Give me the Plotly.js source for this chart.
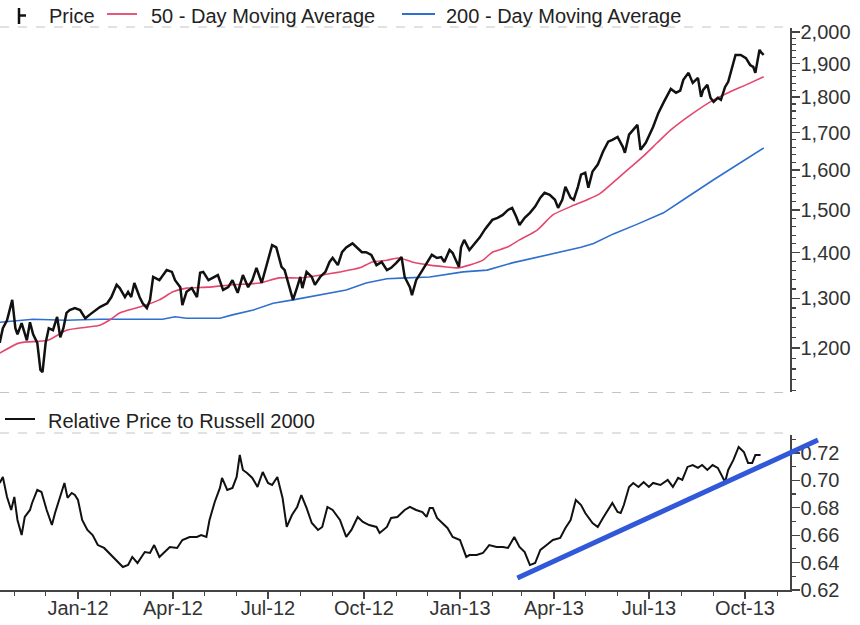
<!DOCTYPE html>
<html>
<head>
<meta charset="utf-8">
<script src="https://cdn.plot.ly/plotly-3.0.1.min.js"></script>
<style>html,body{margin:0;padding:0;background:#fff;}#chart{width:860px;height:625px;}</style>
</head>
<body>
<div id="chart"></div>
<script>
// ---------- DATA ----------
var priceDates = [
'2011-10-18','2011-10-21','2011-10-25','2011-10-30','2011-11-02','2011-11-04','2011-11-08','2011-11-13','2011-11-16','2011-11-19',
'2011-11-23','2011-11-26','2011-11-28','2011-12-01','2011-12-04','2011-12-08','2011-12-12','2011-12-15','2011-12-18','2011-12-21',
'2011-12-24','2011-12-29','2012-01-03','2012-01-08','2012-01-12','2012-01-19','2012-01-22','2012-01-29','2012-02-02','2012-02-07',
'2012-02-10','2012-02-15','2012-02-18','2012-02-21','2012-02-24','2012-02-29','2012-03-03','2012-03-07','2012-03-10','2012-03-13',
'2012-03-19','2012-03-26','2012-03-31','2012-04-03','2012-04-08','2012-04-10','2012-04-14','2012-04-19','2012-04-24','2012-04-27',
'2012-04-30','2012-05-05','2012-05-09','2012-05-14','2012-05-19','2012-05-24','2012-05-28','2012-06-02','2012-06-07','2012-06-12',
'2012-06-16','2012-06-20','2012-06-25','2012-06-30','2012-07-05','2012-07-09','2012-07-14','2012-07-17','2012-07-22','2012-07-25',
'2012-07-29','2012-08-01','2012-08-03','2012-08-07','2012-08-12','2012-08-15','2012-08-20','2012-08-25','2012-08-29','2012-09-01',
'2012-09-06','2012-09-10','2012-09-14','2012-09-20','2012-09-25','2012-09-29','2012-10-03','2012-10-08','2012-10-13','2012-10-18',
'2012-10-23','2012-10-27','2012-11-01','2012-11-06','2012-11-09','2012-11-14','2012-11-16','2012-11-20','2012-11-25','2012-11-30',
'2012-12-05','2012-12-10','2012-12-14','2012-12-17','2012-12-22','2012-12-25','2012-12-29','2012-12-31','2013-01-02','2013-01-05',
'2013-01-10','2013-01-15','2013-01-20','2013-01-25','2013-01-29','2013-02-01','2013-02-06','2013-02-11','2013-02-16','2013-02-20',
'2013-02-24','2013-02-27','2013-03-04','2013-03-09','2013-03-14','2013-03-19','2013-03-23','2013-03-28','2013-04-02','2013-04-05',
'2013-04-09','2013-04-12','2013-04-17','2013-04-20','2013-04-24','2013-04-27','2013-05-01','2013-05-04','2013-05-08','2013-05-13',
'2013-05-18','2013-05-23','2013-05-27','2013-06-01','2013-06-06','2013-06-08','2013-06-12','2013-06-16','2013-06-20','2013-06-23',
'2013-06-28','2013-07-05','2013-07-10','2013-07-15','2013-07-22','2013-07-27','2013-07-31','2013-08-03','2013-08-08','2013-08-12',
'2013-08-17','2013-08-20','2013-08-22','2013-08-26','2013-08-29','2013-09-01','2013-09-05','2013-09-08','2013-09-12','2013-09-15',
'2013-09-19','2013-09-22','2013-09-27','2013-10-02','2013-10-06','2013-10-09','2013-10-11','2013-10-13','2013-10-15','2013-10-17',
'2013-10-19'];
var priceValues = [
1210,1239,1255,1297,1239,1227,1249,1215,1251,1227,
1210,1158,1154,1210,1239,1235,1262,1221,1239,1270,
1276,1280,1276,1259,1266,1276,1282,1290,1303,1329,
1322,1303,1314,1303,1333,1303,1290,1280,1297,1346,
1339,1361,1357,1339,1324,1286,1314,1322,1303,1355,
1357,1339,1344,1350,1318,1324,1339,1312,1350,1324,
1339,1366,1333,1372,1417,1412,1368,1361,1324,1297,
1324,1346,1322,1357,1346,1329,1346,1357,1379,1388,
1372,1401,1412,1421,1410,1401,1401,1395,1372,1379,
1361,1366,1377,1390,1346,1324,1307,1339,1357,1377,
1395,1388,1390,1379,1406,1399,1377,1368,1412,1429,
1406,1421,1435,1454,1466,1476,1481,1488,1500,1505,
1483,1464,1481,1493,1508,1530,1542,1537,1525,1505,
1525,1557,1530,1525,1557,1588,1593,1555,1596,1614,
1648,1675,1680,1688,1661,1645,1694,1707,1721,1653,
1672,1715,1754,1784,1824,1813,1819,1851,1872,1842,
1857,1801,1821,1836,1798,1786,1798,1792,1830,1845,
1890,1927,1927,1917,1896,1890,1872,1902,1943,1933,
1927];

var ma50Dates = ['2011-10-18','2011-11-06','2011-12-03','2011-12-21','2012-01-09','2012-01-22','2012-01-31','2012-02-10','2012-02-29','2012-03-19',
'2012-04-01','2012-04-14','2012-05-04','2012-05-28','2012-06-23','2012-07-12','2012-08-01','2012-08-20','2012-09-08','2012-09-27',
'2012-10-09','2012-10-23','2012-11-04','2012-11-16','2012-12-03','2012-12-19','2012-12-30','2013-01-10','2013-01-23','2013-02-01',
'2013-02-15','2013-02-27','2013-03-16','2013-03-31','2013-04-17','2013-05-03','2013-05-15','2013-06-01','2013-06-13','2013-06-26',
'2013-07-09','2013-07-22','2013-08-10','2013-09-01','2013-09-17','2013-10-02','2013-10-19'];
var ma50Values = [1190,1210,1215,1235,1241,1245,1255,1270,1282,1297,
1314,1322,1324,1329,1333,1344,1344,1350,1357,1366,
1379,1383,1388,1379,1372,1368,1366,1372,1383,1401,
1412,1429,1452,1488,1508,1525,1540,1578,1606,1637,
1672,1707,1749,1792,1816,1836,1860];

var ma200Dates = ['2011-10-18','2011-11-19','2011-12-21','2012-01-22','2012-02-22','2012-03-22','2012-04-03','2012-04-14','2012-05-16','2012-05-28',
'2012-06-17','2012-07-06','2012-07-25','2012-08-20','2012-09-14','2012-10-03','2012-10-23','2012-11-11','2012-12-03','2013-01-04',
'2013-01-27','2013-02-20','2013-03-25','2013-04-27','2013-05-09','2013-05-28','2013-06-20','2013-07-15','2013-08-03','2013-09-01',
'2013-10-19'];
var ma200Values = [1251,1257,1255,1257,1257,1257,1262,1259,1259,1266,
1276,1290,1297,1307,1318,1333,1342,1344,1346,1357,
1361,1377,1395,1412,1421,1443,1466,1493,1525,1575,
1658];

var relDates = [
'2011-10-18','2011-10-21','2011-10-25','2011-10-29','2011-11-01','2011-11-04','2011-11-08','2011-11-11','2011-11-16','2011-11-18',
'2011-11-23','2011-11-27','2011-12-02','2011-12-07','2011-12-10','2011-12-15','2011-12-19','2011-12-22','2011-12-26','2011-12-29',
'2012-01-01','2012-01-05','2012-01-10','2012-01-15','2012-01-20','2012-01-26','2012-02-02','2012-02-08','2012-02-13','2012-02-18',
'2012-02-22','2012-02-27','2012-03-05','2012-03-10','2012-03-14','2012-03-19','2012-03-24','2012-03-29','2012-04-05','2012-04-10',
'2012-04-17','2012-04-24','2012-04-28','2012-05-03','2012-05-06','2012-05-11','2012-05-16','2012-05-18','2012-05-23','2012-05-28',
'2012-06-01','2012-06-04','2012-06-07','2012-06-11','2012-06-16','2012-06-21','2012-06-26','2012-07-01','2012-07-05','2012-07-10',
'2012-07-15','2012-07-19','2012-07-24','2012-07-29','2012-08-02','2012-08-07','2012-08-12','2012-08-18','2012-08-22','2012-08-27',
'2012-09-01','2012-09-08','2012-09-14','2012-09-19','2012-09-25','2012-09-30','2012-10-06','2012-10-13','2012-10-16','2012-10-23',
'2012-10-27','2012-11-02','2012-11-09','2012-11-14','2012-11-20','2012-11-26','2012-11-30','2012-12-03','2012-12-06','2012-12-10',
'2012-12-15','2012-12-20','2012-12-25','2013-01-01','2013-01-07','2013-01-10','2013-01-17','2013-01-23','2013-01-29','2013-02-05',
'2013-02-11','2013-02-16','2013-02-22','2013-02-27','2013-03-04','2013-03-09','2013-03-14','2013-03-19','2013-03-25','2013-03-31',
'2013-04-07','2013-04-12','2013-04-17','2013-04-22','2013-04-27','2013-05-01','2013-05-08','2013-05-13','2013-05-18','2013-05-23',
'2013-05-27','2013-06-01','2013-06-04','2013-06-07','2013-06-12','2013-06-16','2013-06-21','2013-06-26','2013-07-01','2013-07-05',
'2013-07-12','2013-07-19','2013-07-24','2013-07-29','2013-08-02','2013-08-07','2013-08-12','2013-08-17','2013-08-21','2013-08-26',
'2013-08-31','2013-09-05','2013-09-10','2013-09-12','2013-09-15','2013-09-20','2013-09-25','2013-09-30','2013-10-04','2013-10-08',
'2013-10-11','2013-10-16'];
var relValues = [
0.6981,0.7025,0.6879,0.6784,0.6879,0.6711,0.6601,0.6733,0.6784,0.6835,
0.6930,0.6915,0.6784,0.6674,0.6762,0.6893,0.6981,0.6872,0.6908,0.6893,
0.6857,0.6711,0.6638,0.6601,0.6528,0.6507,0.6455,0.6404,0.6368,0.6382,
0.6441,0.6397,0.6477,0.6470,0.6528,0.6441,0.6477,0.6514,0.6507,0.6565,
0.6587,0.6587,0.6601,0.6587,0.6711,0.6842,0.6945,0.7018,0.6930,0.6945,
0.7025,0.7185,0.7076,0.7054,0.7018,0.6952,0.7061,0.6981,0.6966,0.7025,
0.6872,0.6660,0.6747,0.6806,0.6893,0.6799,0.6689,0.6638,0.6660,0.6806,
0.6784,0.6711,0.6587,0.6638,0.6733,0.6696,0.6674,0.6660,0.6616,0.6660,
0.6726,0.6733,0.6784,0.6806,0.6784,0.6769,0.6733,0.6799,0.6799,0.6726,
0.6689,0.6653,0.6587,0.6565,0.6441,0.6455,0.6455,0.6470,0.6528,0.6514,
0.6514,0.6507,0.6587,0.6514,0.6477,0.6382,0.6397,0.6492,0.6528,0.6565,
0.6580,0.6653,0.6711,0.6857,0.6820,0.6762,0.6689,0.6660,0.6726,0.6784,
0.6835,0.6769,0.6762,0.6820,0.6952,0.6981,0.6952,0.6988,0.6952,0.6981,
0.6966,0.7003,0.6952,0.7018,0.7003,0.7098,0.7112,0.7091,0.7112,0.7076,
0.7112,0.7091,0.7018,0.6988,0.7076,0.7149,0.7244,0.7207,0.7127,0.7127,
0.7185,0.7185];

var trendDates = ['2013-02-25','2013-12-10'];
var trendValues = [0.6288, 0.7295];

var priceTickVals = [1200,1300,1400,1500,1600,1700,1800,1900,2000];
var priceTickText = ['1,200','1,300','1,400','1,500','1,600','1,700','1,800','1,900','2,000'];
var priceMinorVals = [1120,1140,1160,1180,1220,1240,1260,1280,1320,1340,1360,1380,1420,1440,1460,1480,
  1520,1540,1560,1580,1620,1640,1660,1680,1720,1740,1760,1780,1820,1840,1860,1880,1920,1940,1960,1980];
var relTickVals = [0.62,0.64,0.66,0.68,0.70,0.72];

var legendTop = ['Price','50 - Day Moving Average','200 - Day Moving Average'];
var legendBottom = ['Relative Price to Russell 2000'];

// ---------- LAYOUT ----------
var W = 860, H = 625;
var xDomEnd = 790 / W;
var xRange = ['2011-10-18 06:30', '2013-11-13 04:48'];
var t0 = Date.parse(xRange[0].replace(' ','T') + ':00Z');
var t1 = Date.parse(xRange[1].replace(' ','T') + ':00Z');
var t2 = t0 + (t1 - t0) / xDomEnd;
var x2End = new Date(t2).toISOString().replace('T',' ').replace('Z','');

var RED = '#e4476d', BLUE = '#2f6fcf', TREND = '#3058d8';
var FONT = 'Liberation Sans, Arial, sans-serif';

var traces = [
  {x: ma200Dates, y: ma200Values, type:'scatter', mode:'lines', name: legendTop[2],
   line:{color:BLUE, width:1.6}, xaxis:'x', yaxis:'y', hoverinfo:'skip'},
  {x: ma50Dates, y: ma50Values, type:'scatter', mode:'lines', name: legendTop[1],
   line:{color:RED, width:1.6, shape:'spline', smoothing:0.6}, xaxis:'x', yaxis:'y', hoverinfo:'skip'},
  {x: priceDates, y: priceValues, type:'scatter', mode:'lines', name: legendTop[0],
   line:{color:'#111', width:2.5}, xaxis:'x', yaxis:'y', hoverinfo:'skip'},
  {x: relDates, y: relValues, type:'scatter', mode:'lines', name: legendBottom[0],
   line:{color:'#111', width:2}, xaxis:'x', yaxis:'y2', hoverinfo:'skip'},
  {x: trendDates, y: trendValues, type:'scatter', mode:'lines', name:'Trend',
   line:{color:TREND, width:5}, xaxis:'x2', yaxis:'y2', hoverinfo:'skip'}
];

function py(p){ return 1 - p / H; }
function px(p){ return p / W; }

var axisColor = '#444';
var tickFont = {family: FONT, size: 20, color: '#333'};

var layout = {
  width: W, height: H,
  margin: {l:0, r:0, t:0, b:0, pad:0},
  paper_bgcolor: '#fff', plot_bgcolor: 'rgba(0,0,0,0)',
  showlegend: false,
  font: {family: FONT, color:'#222'},
  xaxis: {
    type:'date', domain:[0, xDomEnd], anchor:'y2', range: xRange,
    tickmode:'linear', tick0:'2012-01-01', dtick:'M3', tickformat:'%b-%y',
    ticks:'outside', ticklen:7, tickwidth:1.3, tickcolor:axisColor, ticklabelstandoff:-8,
    minor:{dtick:'M1', tick0:'2012-01-01', ticks:'outside', ticklen:4, tickwidth:1.2, tickcolor:axisColor, showgrid:false},
    showline:true, linecolor:axisColor, linewidth:1.5,
    showgrid:false, zeroline:false, tickfont: tickFont, automargin:false
  },
  xaxis2: {
    type:'date', domain:[0,1], anchor:'y2', range:[xRange[0], x2End],
    visible:false, showgrid:false, zeroline:false, fixedrange:true
  },
  yaxis: {
    type:'log', domain:[py(392), py(28)], anchor:'x', side:'right',
    range:[3.04829, 3.3038],
    tickmode:'array', tickvals: priceTickVals, ticktext: priceTickText,
    ticks:'outside', ticklen:8, tickwidth:1.3, tickcolor:axisColor, ticklabelstandoff:-3,
    minor:{tickmode:'array', tickvals: priceMinorVals, ticks:'outside', ticklen:4, tickwidth:1.2, tickcolor:axisColor, showgrid:false},
    showline:true, linecolor:axisColor, linewidth:1.5,
    showgrid:false, zeroline:false, tickfont: tickFont, automargin:false
  },
  yaxis2: {
    type:'linear', domain:[py(590), py(435)], anchor:'x', side:'right',
    range:[0.62, 0.7331],
    tickmode:'array', tickvals: relTickVals, tickformat:'.2f',
    ticks:'outside', ticklen:8, tickwidth:1.3, tickcolor:axisColor, ticklabelstandoff:-3,
    minor:{tickmode:'linear', tick0:0.62, dtick:0.01, ticks:'outside', ticklen:4, tickwidth:1.2, tickcolor:axisColor, showgrid:false},
    showline:true, linecolor:axisColor, linewidth:1.5,
    showgrid:false, zeroline:false, tickfont: tickFont, automargin:false
  },
  shapes: [
    {type:'line', xref:'paper', yref:'paper', x0:0, x1:xDomEnd, y0:py(27), y1:py(27), line:{color:'#c4c4c4', width:1, dash:'dash'}},
    {type:'line', xref:'paper', yref:'paper', x0:0, x1:xDomEnd, y0:py(392.5), y1:py(392.5), line:{color:'#c4c4c4', width:1, dash:'dash'}},
    {type:'line', xref:'paper', yref:'paper', x0:0, x1:xDomEnd, y0:py(433), y1:py(433), line:{color:'#c4c4c4', width:1, dash:'dash'}},
    {type:'line', xref:'paper', yref:'paper', x0:px(19), x1:px(19), y0:py(8), y1:py(24), line:{color:'#111', width:2.5}},
    {type:'line', xref:'paper', yref:'paper', x0:px(19), x1:px(26), y0:py(15.5), y1:py(15.5), line:{color:'#111', width:2.5}},
    {type:'line', xref:'paper', yref:'paper', x0:px(107), x1:px(137), y0:py(14), y1:py(14), line:{color:RED, width:1.8}},
    {type:'line', xref:'paper', yref:'paper', x0:px(402), x1:px(435), y0:py(14), y1:py(14), line:{color:BLUE, width:1.8}},
    {type:'line', xref:'paper', yref:'paper', x0:px(5), x1:px(35), y0:py(419), y1:py(419), line:{color:'#111', width:2}}
  ],
  annotations: [
    {xref:'paper', yref:'paper', x:px(47), y:py(16), xanchor:'left', yanchor:'middle', text: legendTop[0], showarrow:false, font:{family:FONT, size:20, color:'#222'}},
    {xref:'paper', yref:'paper', x:px(149), y:py(16), xanchor:'left', yanchor:'middle', text: legendTop[1], showarrow:false, font:{family:FONT, size:20, color:'#222'}},
    {xref:'paper', yref:'paper', x:px(444), y:py(16), xanchor:'left', yanchor:'middle', text: legendTop[2], showarrow:false, font:{family:FONT, size:20, color:'#222'}},
    {xref:'paper', yref:'paper', x:px(46), y:py(421), xanchor:'left', yanchor:'middle', text: legendBottom[0], showarrow:false, font:{family:FONT, size:20, color:'#222'}}
  ]
};

Plotly.newPlot('chart', traces, layout, {staticPlot:true, displayModeBar:false});
</script>
</body>
</html>
